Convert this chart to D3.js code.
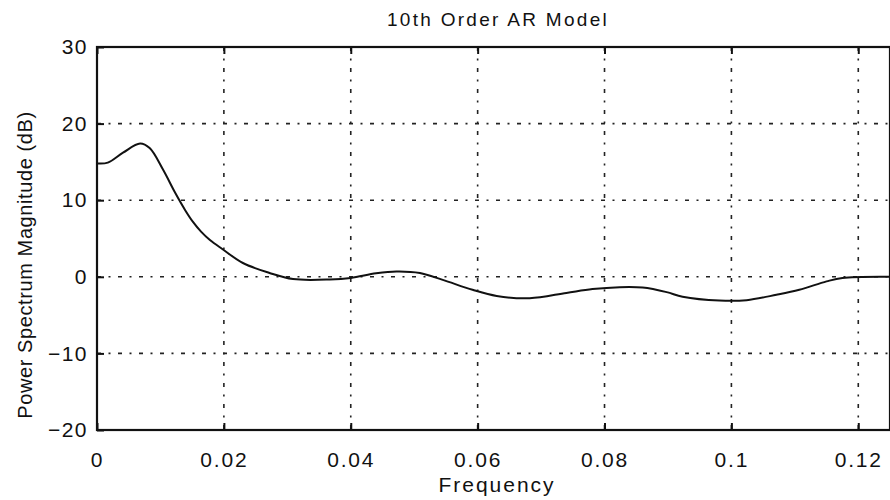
<!DOCTYPE html>
<html>
<head>
<meta charset="utf-8">
<script src="https://cdn.jsdelivr.net/npm/d3@7"></script>
<style>
  body { margin: 0; background: #fff; }
  svg { display: block; }
  text { font-family: "Liberation Sans", Arial, sans-serif; fill: #111; }
</style>
</head>
<body>
<svg id="chart" width="890" height="500"></svg>
<script>
// values
const freq = [0, 0.0017, 0.0041, 0.0068, 0.0083, 0.0104, 0.0123, 0.0139, 0.0151, 0.0164,
  0.0178, 0.0198, 0.0230, 0.0272, 0.0309, 0.0367, 0.0400, 0.0440, 0.0472, 0.0509,
  0.0545, 0.0592, 0.0630, 0.0682, 0.0740, 0.0781, 0.0824, 0.0860, 0.0898, 0.0923,
  0.0981, 0.1024, 0.1071, 0.1107, 0.1150, 0.1175, 0.1249];
const powerDb = [14.8, 14.9, 16.2, 17.4, 16.8, 14.0, 11.0, 8.7, 7.2, 5.9,
  4.8, 3.6, 1.8, 0.5, -0.3, -0.35, -0.15, 0.45, 0.7, 0.5,
  -0.4, -1.7, -2.5, -2.8, -2.1, -1.6, -1.35, -1.4, -2.0, -2.6,
  -3.1, -3.05, -2.35, -1.7, -0.6, -0.15, 0];
const xTicks = [0, 0.02, 0.04, 0.06, 0.08, 0.1, 0.12];
const yTicks = [-20, -10, 0, 10, 20, 30];
const titleText = "10th Order AR Model";
const xLabel = "Frequency";
const yLabel = "Power Spectrum Magnitude (dB)";

const svg = d3.select('#chart');
const margin = { left: 97, right: 0, top: 47, bottom: 70 };
const width = 890 - margin.left - margin.right;
const height = 500 - margin.top - margin.bottom;

const x = d3.scaleLinear().domain([0, 0.125]).range([0, width]);
const y = d3.scaleLinear().domain([-20, 30]).range([height, 0]);

const g = svg.append('g')
  .attr('transform', `translate(${margin.left},${margin.top})`);

// dotted grid
const gridDash = '4,7.5,2,7.5';
g.selectAll('.vgrid').data(xTicks.slice(1)).join('line')
  .attr('class', 'vgrid')
  .attr('x1', d => x(d)).attr('x2', d => x(d))
  .attr('y1', 0).attr('y2', height)
  .attr('stroke', '#222').attr('stroke-width', 1.6)
  .attr('stroke-dasharray', gridDash);
g.selectAll('.hgrid').data(yTicks.slice(1, -1)).join('line')
  .attr('class', 'hgrid')
  .attr('x1', 0).attr('x2', width)
  .attr('y1', d => y(d)).attr('y2', d => y(d))
  .attr('stroke', '#222').attr('stroke-width', 1.6)
  .attr('stroke-dasharray', gridDash);

// axes
const xAxis = d3.axisBottom(x).tickValues(xTicks)
  .tickFormat(d3.format('')).tickSizeInner(-7).tickSizeOuter(0).tickPadding(22);
const yAxis = d3.axisLeft(y).tickValues(yTicks)
  .tickSizeInner(-7).tickSizeOuter(0).tickPadding(9);

const gx = g.append('g').attr('transform', `translate(0,${height})`).call(xAxis);
const gxTop = g.append('g').call(d3.axisTop(x).tickValues(xTicks).tickSizeInner(-7).tickSizeOuter(0).tickFormat(''));
const gy = g.append('g').call(yAxis);

[gx, gxTop, gy].forEach(a => {
  a.select('.domain').remove();
  a.selectAll('.tick line').attr('stroke', '#111').attr('stroke-width', 2);
});
gx.selectAll('.tick text').attr('font-size', 21).attr('letter-spacing', 1.8).attr('fill', '#111');
gy.selectAll('.tick text').attr('font-size', 21).attr('letter-spacing', 1.5).attr('fill', '#111');

// frame
g.append('rect')
  .attr('x', 0).attr('y', 0).attr('width', width).attr('height', height)
  .attr('fill', 'none').attr('stroke', '#111').attr('stroke-width', 2.2);

// curve
const line = d3.line()
  .x((d, i) => x(freq[i]))
  .y(d => y(d))
  .curve(d3.curveCatmullRom.alpha(0.5));
g.append('path')
  .datum(powerDb)
  .attr('d', line)
  .attr('fill', 'none')
  .attr('stroke', '#111')
  .attr('stroke-width', 2);

// labels
svg.append('text')
  .attr('x', 498).attr('y', 26)
  .attr('text-anchor', 'middle')
  .attr('font-size', 19).attr('letter-spacing', 2.3)
  .text(titleText);
svg.append('text')
  .attr('x', 497).attr('y', 492)
  .attr('text-anchor', 'middle')
  .attr('font-size', 21).attr('letter-spacing', 2)
  .text(xLabel);
svg.append('text')
  .attr('transform', 'translate(32,265) rotate(-90)')
  .attr('text-anchor', 'middle')
  .attr('font-size', 20).attr('letter-spacing', 0.6)
  .text(yLabel);
</script>
</body>
</html>
